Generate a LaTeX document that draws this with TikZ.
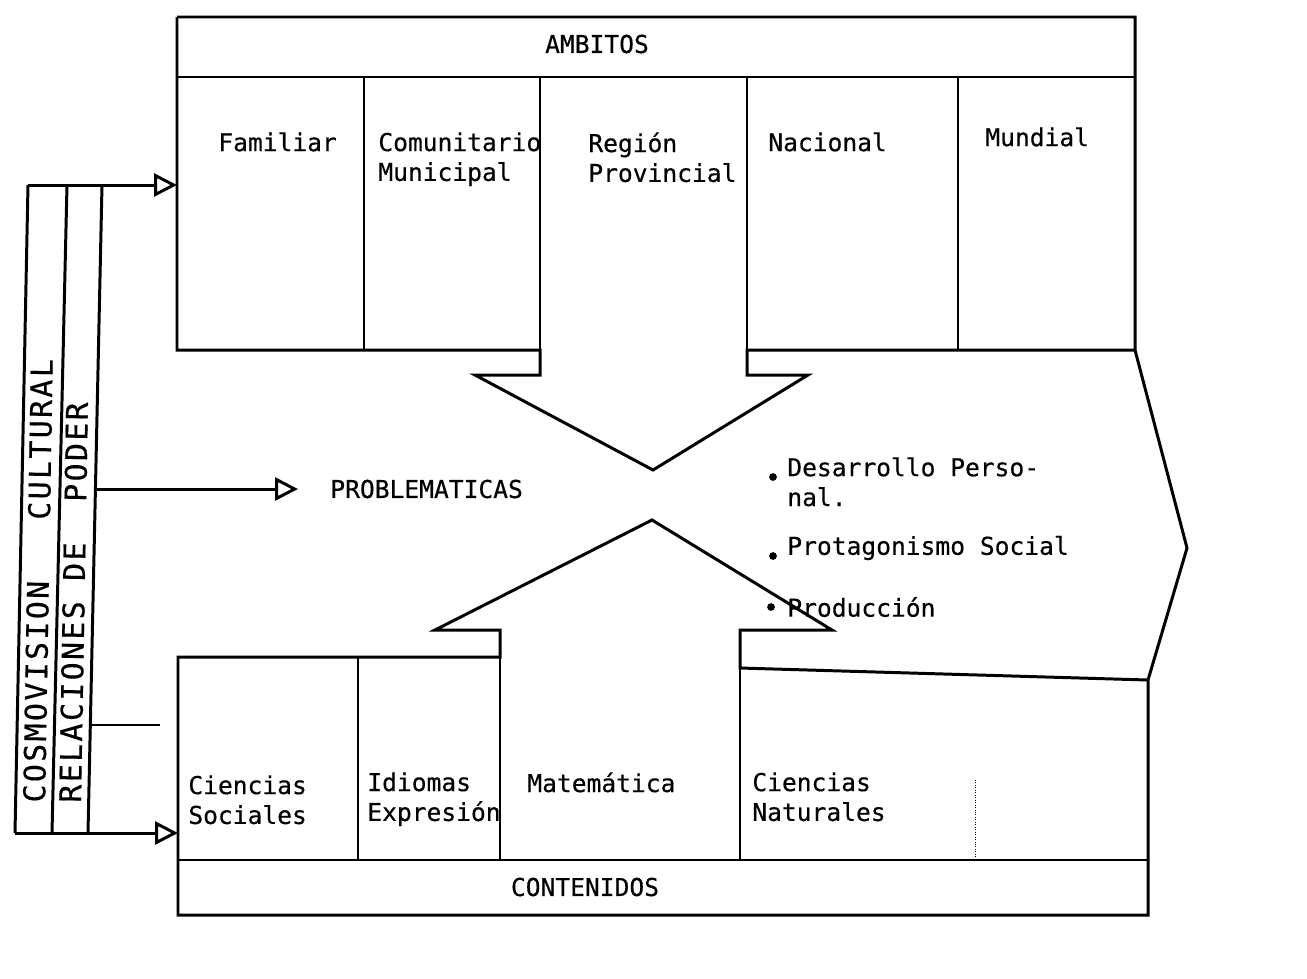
\documentclass[tikz,border=0pt]{standalone}
\usepackage{fontspec}
\setmonofont[FakeBold=0.4]{DejaVu Sans Mono}
\newfontfamily\stripfont[FakeBold=0.4, LetterSpace=8]{DejaVu Sans Mono}
\usetikzlibrary{arrows.meta}

\begin{document}
\begin{tikzpicture}[
        x=0.02cm, y=-0.02cm,
        every node/.style={font=\ttfamily\fontsize{14}{17}\selectfont, inner sep=0pt, align=left},
        frame/.style={line width=1.7pt, line join=miter},
        divider/.style={line width=1.4pt},
        flow/.style={line width=1.7pt, -{Triangle[open, length=13pt, width=13pt, line width=1.7pt]}},
        cell/.style={anchor=north west},
        item/.style={anchor=west},
        strip/.style={rotate=89, anchor=base west, font=\stripfont\fontsize{17}{20}\selectfont},
    ]
    \useasboundingbox (0,0) rectangle (1307,978);

    % ambitos box with the downward arrow
    \draw[frame] (177,17) -- (1135,17) -- (1135,350) -- (1187,548) -- (1148,680)
        -- (1148,915) -- (178,915) -- (178,657) -- (500,657) -- (500,630)
        -- (435,630) -- (652,520) -- (832,630) -- (740,630) -- (740,668) -- (1148,680);
    \draw[frame] (177,17) -- (177,350) -- (540,350) -- (540,375) -- (475,375)
        -- (653,470) -- (808,375) -- (747,375) -- (747,350) -- (1135,350);
    \draw[divider] (177,77) -- (1135,77);
    \foreach \x in {364,540,747,958}
        \draw[divider] (\x,77) -- (\x,350);
    % contenidos
    \draw[divider] (178,860) -- (1148,860);
    \draw[divider] (358,657) -- (358,860);
    \draw[divider] (500,657) -- (500,860);
    \draw[divider] (740,668) -- (740,860);
    \draw[densely dotted, thin] (975,780) -- (975,860);

    \node (ambitos) at (597,44) {AMBITOS};
    \node[cell] (familiar) at (218,132) {Familiar};
    \node[cell] (comunitario) at (378,132) {Comunitario\\Municipal};
    \node[cell] (region) at (588,132) {Región\\Provincial};
    \node[cell] (nacional) at (768,132) {Nacional};
    \node[cell] (mundial) at (985,127) {Mundial};

    \node (contenidos) at (585,887) {CONTENIDOS};
    \node[cell] (sociales) at (188,775) {Ciencias\\Sociales};
    \node[cell] (idiomas) at (367,772) {Idiomas\\Expresión};
    \node[cell] (matematica) at (527,772) {Matemática};
    \node[cell] (naturales) at (752,772) {Ciencias\\Naturales};

    \node[anchor=west] (problem) at (330,489) {PROBLEMATICAS};
    \node[cell] (desarrollo) at (787,457) {Desarrollo Perso-\\nal.};
    \node[item] (protagonismo) at (787,548) {Protagonismo Social};
    \node[item] (produccion) at (787,607) {Producción};
    \fill (773,477) circle (2.2pt);
    \fill (773,556) circle (2.2pt);
    \fill (771,607) circle (2.2pt);

    % side strips
    \coordinate (cosmoTop) at (28,185);
    \coordinate (cosmoBot) at (15,833);
    \coordinate (poderTop) at (102,185);
    \coordinate (poderBot) at (88,833);
    \draw[frame] (cosmoTop) -- (cosmoBot);
    \draw[frame] (67,185) -- (52,833);
    \draw[frame] (poderTop) -- (poderBot);
    \node[strip] (cosmo) at (45,803) {COSMOVISION\ \ \ CULTURAL};
    \node[strip] (poder) at (81,803) {RELACIONES DE\ \ PODER};

    \coordinate (ambitosIn) at (177,185);
    \coordinate (contenidosIn) at (178,833);
    \coordinate (poderMid) at (95,489);
    \coordinate (problemIn) at (298,489);
    \coordinate (poderLow) at (90,725);
    \draw[flow] (cosmoTop) -- (ambitosIn);
    \draw[flow] (cosmoBot) -- (contenidosIn);
    \draw[flow] (poderMid) -- (problemIn);
    \draw[divider] (poderLow) -- (160,725);
\end{tikzpicture}
\end{document}
